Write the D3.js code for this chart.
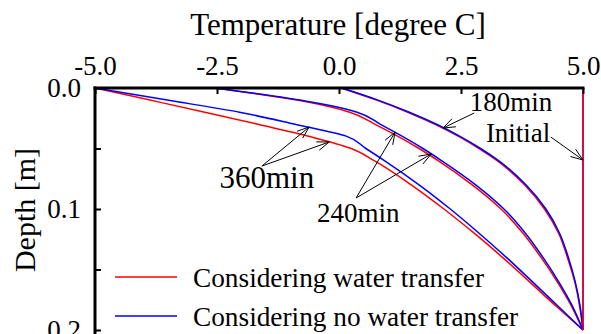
<!DOCTYPE html>
<html>
<head>
<meta charset="utf-8">
<script src="https://cdn.jsdelivr.net/npm/d3@7"></script>
<style>
  html, body { margin: 0; padding: 0; background: #fff; }
  svg { display: block; }
  text { font-family: "Liberation Serif", "Times New Roman", Times, serif; fill: #000; }
</style>
</head>
<body>
<svg id="chart" width="601" height="334"></svg>
<script>
// ---------------- data ----------------
const depths   = [0, 0.01, 0.02, 0.03, 0.04, 0.05, 0.06, 0.08, 0.10, 0.12, 0.14, 0.16, 0.18, 0.20];
const initialT = [5, 5, 5, 5, 5, 5, 5, 5, 5, 5, 5, 5, 5, 5];
// Considering water transfer (red)
const red180 = [0.04, 0.77, 1.41, 1.97, 2.45, 2.87, 3.24, 3.80, 4.21, 4.50, 4.68, 4.83, 4.93, 5];
const red240 = [-2.55, -0.86, 0.22, 0.74, 1.21, 1.64, 2.03, 2.73, 3.32, 3.77, 4.14, 4.47, 4.76, 5];
const red360 = [-5, -3.87, -2.75, -1.66, -0.60, 0.25, 0.72, 1.48, 2.15, 2.77, 3.35, 3.90, 4.44, 5];
// Considering no water transfer (blue)
const blue180 = [0.06, 0.80, 1.44, 2.00, 2.48, 2.90, 3.27, 3.83, 4.24, 4.52, 4.70, 4.84, 4.94, 5];
const blue240 = [-2.55, -0.80, 0.37, 0.85, 1.30, 1.72, 2.10, 2.80, 3.38, 3.82, 4.18, 4.50, 4.78, 5];
const blue360 = [-5, -3.52, -2.04, -0.90, 0.16, 0.55, 0.93, 1.64, 2.28, 2.87, 3.43, 3.96, 4.48, 5];

const xTicks = [-5.0, -2.5, 0.0, 2.5, 5.0];
const yTicks = [0, 0.05, 0.1, 0.15, 0.2];
const yLabelTicks = [0, 0.1, 0.2];

const legendLabels = ["Considering water transfer", "Considering no water transfer"];
const xTitle = "Temperature [degree C]";
const yTitle = "Depth [m]";

// annotations in data units: label, label position, arrows [from, to]
const annLabels = [
  {text: "180min",  T: 2.68,  d: 0.0190, size: 27},
  {text: "Initial", T: 3.01,  d: 0.0446, size: 27},
  {text: "360min",  T: -2.45, d: 0.0826, size: 31},
  {text: "240min",  T: -0.45, d: 0.1110, size: 27}
];
const annArrows = [
  {from: [2.77, 0.0207],  to: [2.13, 0.0331]},
  {from: [4.34, 0.0405],  to: [5.00, 0.0595]},
  {from: [-1.58, 0.0645], to: [-0.61, 0.0322]},
  {from: [-1.58, 0.0645], to: [-0.20, 0.0446]},
  {from: [0.35, 0.0909],  to: [1.15, 0.0364]},
  {from: [0.35, 0.0909],  to: [1.89, 0.0545]}
];

// ---------------- layout ----------------
const RED = "#ff0000", BLUE = "#0000ff";
const FONT = "'Liberation Serif', 'Times New Roman', Times, serif";
const svg = d3.select("#chart");
const x = d3.scaleLinear().domain([-5, 5]).range([95, 583]);
const y = d3.scaleLinear().domain([0, 0.2]).range([88, 330]);

const series = [
  {vals: red180, color: RED}, {vals: red240, color: RED}, {vals: red360, color: RED},
  {vals: blue180, color: BLUE}, {vals: blue240, color: BLUE}, {vals: blue360, color: BLUE},
  {vals: initialT, color: BLUE}, {vals: initialT, color: RED}
];

const line = d3.line()
  .x(d => x(d[0]))
  .y(d => y(d[1]))
  .curve(d3.curveMonotoneY);

svg.append("g").selectAll("path")
  .data(series)
  .join("path")
  .attr("d", s => line(s.vals.map((t, i) => [t, depths[i]])))
  .attr("fill", "none")
  .attr("stroke", s => s.color)
  .attr("stroke-width", 1.5);

// axes
const fmt1 = v => d3.format(".1f")(v).replace("\u2212", "-");
const xAxis = d3.axisTop(x).tickValues(xTicks).tickFormat(fmt1)
  .tickSizeInner(-6).tickSizeOuter(0).tickPadding(13);
const gx = svg.append("g").attr("transform", `translate(0,${y(0)})`).call(xAxis)
  .attr("font-family", FONT).attr("font-size", 27);
gx.select(".domain").attr("stroke", "#000").attr("stroke-width", 3)
  .attr("d", `M${x(-5) - 1.5},0H${x(5) + 1.5}`);
gx.selectAll(".tick line").attr("stroke", "#000").attr("stroke-width", 2);
gx.selectAll(".tick text").style("font-size", "27px").style("font-family", FONT);

const yAxis = d3.axisLeft(y).tickValues(yTicks)
  .tickFormat(v => yLabelTicks.some(t => Math.abs(t - v) < 1e-9) ? fmt1(v) : "")
  .tickSizeInner(-6).tickSizeOuter(0).tickPadding(14);
const gy = svg.append("g").attr("transform", `translate(${x(-5)},0)`).call(yAxis)
  .attr("font-family", FONT).attr("font-size", 27);
gy.select(".domain").attr("stroke", "#000").attr("stroke-width", 3)
  .attr("d", `M0,${y(0) - 1.5}V340`);
gy.selectAll(".tick line").attr("stroke", "#000").attr("stroke-width", 2);
gy.selectAll(".tick text").style("font-size", "27px").style("font-family", FONT);

// titles
svg.append("text")
  .attr("x", (x(-5) + x(5)) / 2 - 1).attr("y", 35)
  .attr("text-anchor", "middle").style("font-size", "31px")
  .text(xTitle);
svg.append("text")
  .attr("transform", `translate(35,${210}) rotate(-90)`)
  .attr("text-anchor", "middle").style("font-size", "30px")
  .text(yTitle);

// legend
const legColors = [RED, BLUE];
const leg = svg.append("g");
legendLabels.forEach((lab, i) => {
  const ly = 277 + i * 39;
  leg.append("line").attr("x1", 115).attr("x2", 177).attr("y1", ly).attr("y2", ly)
    .attr("stroke", legColors[i]).attr("stroke-width", 1.5);
  leg.append("text").attr("x", 193).attr("y", ly + 10)
    .style("font-size", "27.3px").text(lab);
});

// annotation labels
svg.append("g").selectAll("text")
  .data(annLabels)
  .join("text")
  .attr("x", d => x(d.T)).attr("y", d => y(d.d))
  .style("font-size", d => d.size + "px")
  .text(d => d.text);

// annotation arrows
const head = 13, ang = 20 * Math.PI / 180;
svg.append("g").selectAll("path")
  .data(annArrows)
  .join("path")
  .attr("d", a => {
    const x0 = x(a.from[0]), y0 = y(a.from[1]);
    const x1 = x(a.to[0]), y1 = y(a.to[1]);
    const th = Math.atan2(y0 - y1, x0 - x1);
    const p1 = [x1 + head * Math.cos(th + ang), y1 + head * Math.sin(th + ang)];
    const p2 = [x1 + head * Math.cos(th - ang), y1 + head * Math.sin(th - ang)];
    return `M${x0},${y0}L${x1},${y1}M${p1[0]},${p1[1]}L${x1},${y1}L${p2[0]},${p2[1]}`;
  })
  .attr("fill", "none").attr("stroke", "#000").attr("stroke-width", 1);
</script>
</body>
</html>
